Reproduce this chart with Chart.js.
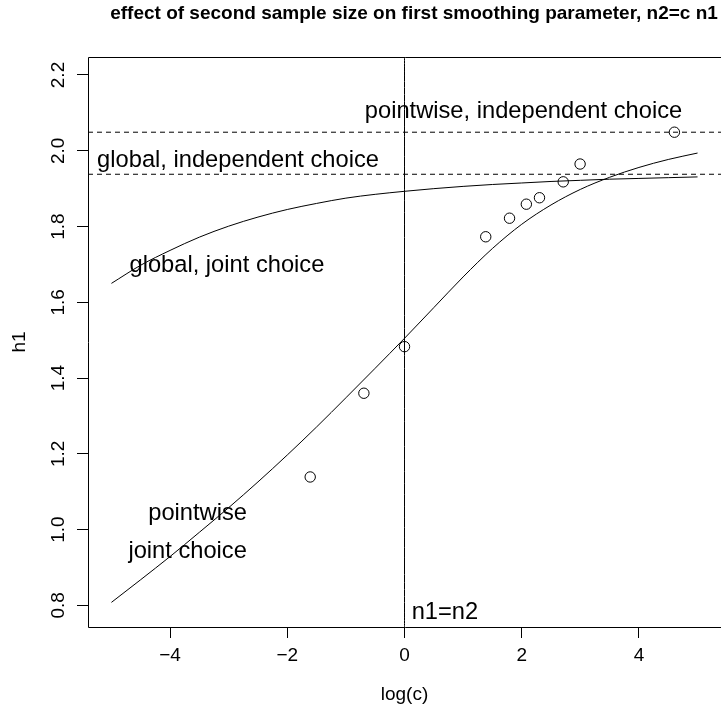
<!DOCTYPE html>
<html>
<head>
<meta charset="utf-8">
<script src="https://cdn.jsdelivr.net/npm/chart.js@4/dist/chart.umd.min.js"></script>
<style>
html,body{margin:0;padding:0;background:#fff;overflow:hidden;}
#wrap{width:721px;height:710px;position:relative;}
canvas{display:block;}
</style>
</head>
<body>
<div id="wrap"><canvas id="c" width="721" height="710"></canvas></div>
<script>
// ---------- text ----------
const titleText = "effect of second sample size on first smoothing parameter, n2=c n1";
const xAxisLabel = "log(c)";
const yAxisLabel = "h1";

// ---------- axes ----------
const xTicks = [-4, -2, 0, 2, 4];
const yTicks = [0.8, 1.0, 1.2, 1.4, 1.6, 1.8, 2.0, 2.2];
const xLimits = [-5.4, 5.4];
const yLimits = [0.743, 2.2475];

// ---------- simulated optimal h1 (circles) ----------
const simLogC = [-1.609, -0.693, 0, 1.386, 1.792, 2.079, 2.303, 2.708, 2.996, 4.605];
const simH1   = [1.139, 1.360, 1.483, 1.773, 1.822, 1.859, 1.876, 1.918, 1.965, 2.049];

// ---------- curves ----------
const curveLogC = [-5, -4.5, -4, -3.5, -3, -2.5, -2, -1.5, -1, -0.5, 0, 0.5, 1, 1.5, 2, 2.5, 3, 3.5, 4, 4.5, 5];
const globalJointH1    = [1.650, 1.698, 1.737, 1.772, 1.801, 1.825, 1.845, 1.861, 1.875, 1.885, 1.893, 1.900, 1.906, 1.911, 1.915, 1.919, 1.922, 1.925, 1.927, 1.929, 1.931];
const pointwiseJointH1 = [0.808, 0.868, 0.929, 0.993, 1.058, 1.126, 1.197, 1.271, 1.348, 1.426, 1.505, 1.586, 1.667, 1.742, 1.806, 1.857, 1.898, 1.930, 1.956, 1.977, 1.994];

// ---------- reference lines ----------
const pointwiseIndepH1 = 2.049;
const globalIndepH1 = 1.938;
const equalSizeLogC = 0;

// ---------- annotations ----------
const annText  = ["pointwise, independent choice", "global, independent choice", "global, joint choice", "pointwise", "joint choice", "n1=n2"];
const annX     = [2.03, -2.84, -3.03, -3.53, -3.70, 0.69];
const annY     = [2.108, 1.980, 1.703, 1.048, 0.948, 0.787];

const FONT = "'Liberation Sans', Arial, Helvetica, sans-serif";
const BLACK = '#000000';

const toXY = (xs, ys) => xs.map((x, i) => ({x: x, y: ys[i]}));

const decorPlugin = {
  id: 'decor',
  afterDatasetsDraw(chart) {
    const {ctx, chartArea: a, scales} = chart;
    const xs = scales.x, ys = scales.y;
    ctx.save();
    // plot box (its right side falls on the canvas border)
    ctx.strokeStyle = BLACK;
    ctx.lineWidth = 1;
    const L = Math.round(a.left) + 0.5, T = Math.round(a.top) + 0.5, B = Math.round(a.bottom) + 0.5;
    ctx.beginPath();
    ctx.moveTo(chart.width + 2, T); ctx.lineTo(L, T); ctx.lineTo(L, B); ctx.lineTo(chart.width + 2, B);
    ctx.stroke();
    // annotations
    ctx.fillStyle = BLACK;
    const annSize = 23.7;
    ctx.font = annSize + 'px ' + FONT;
    ctx.textAlign = 'center';
    ctx.textBaseline = 'alphabetic';
    annText.forEach((t, i) => {
      const px = xs.getPixelForValue(annX[i]);
      const py = ys.getPixelForValue(annY[i]);
      ctx.fillText(t, px, py + 0.358 * annSize);
    });
    // title
    const midX = (a.left + a.right) / 2;
    ctx.font = 'bold 19px ' + FONT;
    ctx.fillText(titleText, 414, 19);
    // x axis label
    ctx.font = '19px ' + FONT;
    ctx.fillText(xAxisLabel, midX, 700);
    // y axis label
    ctx.translate(25, (a.top + a.bottom) / 2);
    ctx.rotate(-Math.PI / 2);
    ctx.fillText(yAxisLabel, 0, 0);
    ctx.restore();
  }
};

const lineDs = (label, data, dash) => ({
  label: label, data: data, showLine: true, pointRadius: 0, pointHoverRadius: 0,
  borderColor: BLACK, borderWidth: 1, borderDash: dash || [], fill: false,
  cubicInterpolationMode: 'monotone'
});

new Chart(document.getElementById('c'), {
  type: 'scatter',
  data: {
    datasets: [
      lineDs('global, joint choice', toXY(curveLogC, globalJointH1)),
      lineDs('pointwise, joint choice', toXY(curveLogC, pointwiseJointH1)),
      lineDs('pointwise, independent choice', toXY(xLimits, [pointwiseIndepH1, pointwiseIndepH1]), [5, 4]),
      lineDs('global, independent choice', toXY(xLimits, [globalIndepH1, globalIndepH1]), [5, 4]),
      lineDs('n1=n2', toXY([equalSizeLogC, equalSizeLogC], yLimits)),
      {
        label: 'simulated', data: toXY(simLogC, simH1), showLine: false,
        pointRadius: 5.2, pointHoverRadius: 5.2, pointBorderWidth: 1,
        pointBorderColor: BLACK, pointBackgroundColor: 'rgba(0,0,0,0)'
      }
    ]
  },
  options: {
    responsive: false,
    animation: false,
    devicePixelRatio: 1,
    layout: {autoPadding: false, padding: {top: 57, right: 0, bottom: 0, left: 0}},
    plugins: {legend: {display: false}, tooltip: {enabled: false}, title: {display: false}},
    scales: {
      x: {
        type: 'linear', position: 'bottom',
        min: xLimits[0], max: xLimits[1],
        afterBuildTicks: s => { s.ticks = xTicks.map(v => ({value: v})); },
        afterFit: s => { s.height = 83; s.paddingLeft = 0; s.paddingRight = 0; },
        grid: {display: true, drawOnChartArea: false, drawTicks: true, tickLength: 11, color: BLACK, lineWidth: 1},
        border: {display: false},
        ticks: {
          autoSkip: false, maxRotation: 0, minRotation: 0, padding: 6,
          color: BLACK, font: {family: FONT, size: 19},
          callback: v => String(v).replace('-', '\u2212')
        }
      },
      y: {
        type: 'linear', position: 'left',
        min: yLimits[0], max: yLimits[1],
        afterBuildTicks: s => { s.ticks = yTicks.map(v => ({value: v})); },
        afterFit: s => { s.width = 88; s.paddingTop = 0; s.paddingBottom = 0; },
        grid: {display: true, drawOnChartArea: false, drawTicks: true, tickLength: 11, color: BLACK, lineWidth: 1},
        border: {display: false},
        ticks: {
          autoSkip: false, minRotation: 90, maxRotation: 90, crossAlign: 'center', padding: 5,
          color: BLACK, font: {family: FONT, size: 19},
          callback: v => Number(v).toFixed(1)
        }
      }
    }
  },
  plugins: [decorPlugin]
});
</script>
</body>
</html>
